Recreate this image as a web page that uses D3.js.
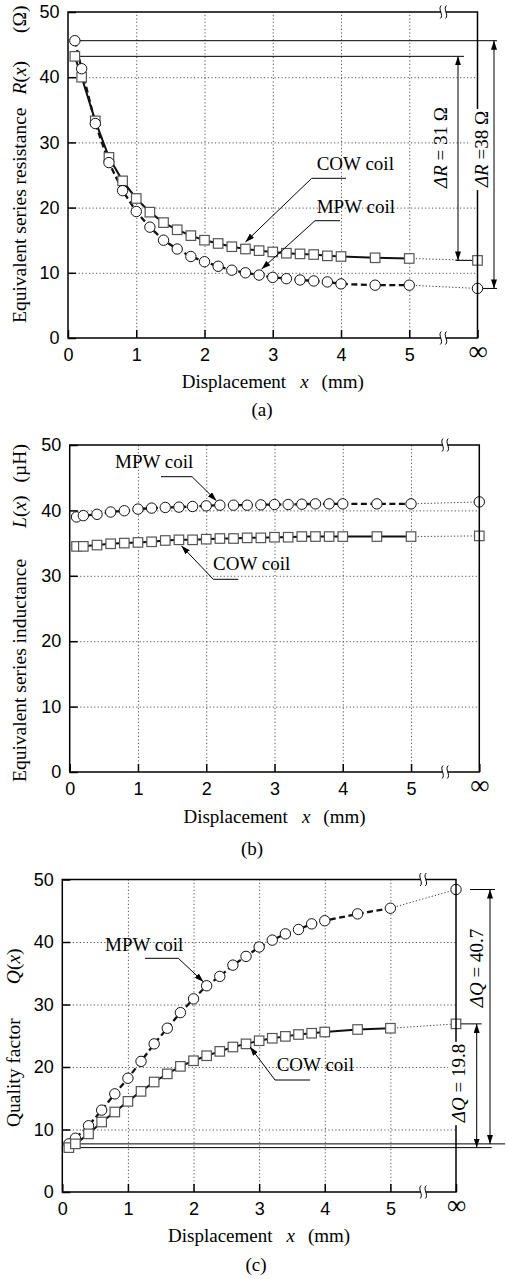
<!DOCTYPE html>
<html>
<head>
<meta charset="utf-8">
<script src="https://cdn.jsdelivr.net/npm/d3@7"></script>
<style>
  html, body { margin: 0; padding: 0; background: #fff; }
  svg { display: block; }
</style>
</head>
<body>
<svg id="chart" width="506" height="1279"></svg>
<script>
// ---- data -------------------------------------------------------------
// displacement steps in mm; the right-most column of every panel is x = ∞
const displacement = [0.1, 0.2, 0.4, 0.6, 0.8, 1.0, 1.2, 1.4, 1.6, 1.8, 2.0, 2.2, 2.4, 2.6, 2.8, 3.0, 3.2, 3.4, 3.6, 3.8, 4.0, 4.5, 5.0];
const xTickValues = [0, 1, 2, 3, 4, 5];
const yTickValues = [0, 10, 20, 30, 40, 50];
const gridX = [1, 2, 3, 4, 5];
const gridY = [10, 20, 30, 40];

// (a) equivalent series resistance R(x), Ω
const resistanceCOW = [43.2, 40.0, 33.3, 27.7, 24.1, 21.4, 19.3, 17.7, 16.6, 15.7, 15.0, 14.5, 14.0, 13.65, 13.4, 13.2, 13.0, 12.9, 12.8, 12.6, 12.5, 12.3, 12.2];
const resistanceCOWInf = 11.9;
const resistanceMPW = [45.6, 41.3, 32.9, 26.9, 22.6, 19.4, 17.0, 15.0, 13.65, 12.5, 11.7, 11.0, 10.4, 10.0, 9.65, 9.3, 9.1, 8.9, 8.75, 8.6, 8.3, 8.1, 8.1];
const resistanceMPWInf = 7.6;

// (b) equivalent series inductance L(x), µH
const inductanceMPW = [39.0, 39.2, 39.4, 39.75, 39.95, 40.2, 40.35, 40.45, 40.5, 40.6, 40.7, 40.8, 40.8, 40.8, 40.85, 40.9, 40.9, 40.95, 41.0, 41.0, 41.0, 41.0, 41.0];
const inductanceMPWInf = 41.3;
const inductanceCOW = [34.5, 34.5, 34.7, 34.9, 35.0, 35.1, 35.2, 35.4, 35.5, 35.5, 35.6, 35.7, 35.7, 35.8, 35.8, 35.9, 35.9, 36.0, 36.0, 36.0, 36.0, 36.0, 36.0];
const inductanceCOWInf = 36.1;

// (c) quality factor Q(x)
const qualityMPW = [7.7, 8.6, 10.6, 13.1, 15.7, 18.2, 20.9, 23.7, 26.2, 28.7, 30.9, 33.0, 34.5, 36.3, 37.7, 39.2, 40.3, 41.3, 42.0, 42.9, 43.4, 44.5, 45.4];
const qualityMPWInf = 48.4;
const qualityCOW = [7.1, 7.7, 9.3, 11.2, 12.8, 14.5, 16.1, 17.6, 18.9, 20.1, 21.0, 21.8, 22.5, 23.2, 23.7, 24.2, 24.6, 24.9, 25.2, 25.4, 25.6, 26.0, 26.2];
const qualityCOWInf = 26.9;

// ---- drawing helpers ---------------------------------------------------
const SERIF = "'Liberation Serif','Times New Roman',Times,serif";
const SANS = "'Liberation Sans',Arial,Helvetica,sans-serif";
const X_INF = 6;      // scale position of the ∞ column
const X_BREAK = 5.5;  // position of the axis break symbol

const svg = d3.select('#chart');
const defs = svg.append('defs');
defs.append('marker')
  .attr('id', 'arrow')
  .attr('viewBox', '0 0 9 6')
  .attr('refX', 9).attr('refY', 3)
  .attr('markerWidth', 9).attr('markerHeight', 6)
  .attr('markerUnits', 'userSpaceOnUse')
  .attr('orient', 'auto-start-reverse')
  .append('path').attr('d', 'M0,0 L9,3 L0,6 Z').attr('fill', '#000');

function drawPanel(p) {
  const g = svg.append('g');
  const x = d3.scaleLinear().domain([0, X_INF]).range([p.left, p.right]);
  const y = d3.scaleLinear().domain([0, 50]).range([p.bottom, p.top]);
  const W = p.right - p.left, H = p.bottom - p.top;

  // dotted grid
  g.append('g').attr('transform', `translate(0,${p.bottom})`)
    .call(d3.axisBottom(x).tickValues(gridX).tickSize(-H).tickFormat(''))
    .call(s => { s.select('.domain').remove(); s.selectAll('line').attr('stroke', '#555').attr('stroke-width', 1).attr('stroke-dasharray', '1.2,2.3'); });
  g.append('g').attr('transform', `translate(${p.left},0)`)
    .call(d3.axisLeft(y).tickValues(gridY).tickSize(-W).tickFormat(''))
    .call(s => { s.select('.domain').remove(); s.selectAll('line').attr('stroke', '#555').attr('stroke-width', 1).attr('stroke-dasharray', '1.2,2.3'); });

  // difference annotations (reference lines + double arrows)
  const ann = g.append('g').attr('stroke', '#000').attr('stroke-width', 1).attr('fill', 'none');
  p.deltas.forEach(d => {
    const y0 = y(d.from), y1 = y(d.to);
    const near = d.refAt === 'low' ? y1 : y0;   // long line starts at x = 0.1
    const far = d.refAt === 'low' ? y0 : y1;    // short tick at the ∞ column
    ann.append('line').attr('x1', x(displacement[0])).attr('x2', p.right + d.longEnd).attr('y1', near).attr('y2', near);
    ann.append('line').attr('x1', p.right + d.shortFrom).attr('x2', p.right + d.shortTo).attr('y1', far).attr('y2', far);
    ann.append('line').attr('x1', p.right + d.arrowX).attr('x2', p.right + d.arrowX)
      .attr('y1', y0).attr('y2', y1)
      .attr('marker-start', 'url(#arrow)').attr('marker-end', 'url(#arrow)');
  });

  const line = d3.line().x(d => x(d[0])).y(d => y(d[1]));
  const cowPts = displacement.map((d, i) => [d, p.cow[i]]);
  const mpwPts = displacement.map((d, i) => [d, p.mpw[i]]);

  // dotted links from 5 mm to ∞
  [[cowPts, p.cowInf], [mpwPts, p.mpwInf]].forEach(([pts, inf]) => {
    g.append('path').attr('d', line([pts[pts.length - 1], [X_INF, inf]]))
      .attr('fill', 'none').attr('stroke', '#444').attr('stroke-width', 1).attr('stroke-dasharray', '1.3,2');
  });

  g.append('path').attr('d', line(cowPts)).attr('fill', 'none').attr('stroke', '#111').attr('stroke-width', 2);
  g.append('path').attr('d', line(mpwPts)).attr('fill', 'none').attr('stroke', '#111').attr('stroke-width', 2.3).attr('stroke-dasharray', '6,3.5');

  const drawSquares = () => {
    g.append('g').selectAll('rect').data(cowPts.concat([[X_INF, p.cowInf]])).join('rect')
      .attr('x', d => x(d[0]) - 4.75).attr('y', d => y(d[1]) - 4.75)
      .attr('width', 9.5).attr('height', 9.5)
      .attr('fill', '#fff').attr('stroke', '#555').attr('stroke-width', 1.2);
  };
  const drawCircles = () => {
    g.append('g').selectAll('circle').data(mpwPts.concat([[X_INF, p.mpwInf]])).join('circle')
      .attr('cx', d => x(d[0])).attr('cy', d => y(d[1])).attr('r', 5.2)
      .attr('fill', '#fff').attr('stroke', '#111').attr('stroke-width', 1);
  };
  if (p.squaresOnTop) { drawCircles(); drawSquares(); } else { drawSquares(); drawCircles(); }

  // frame
  g.append('path')
    .attr('d', `M${p.left},${p.top}V${p.bottom}H${p.right}V${p.top}Z`)
    .attr('fill', 'none').attr('stroke', '#000').attr('stroke-width', 1.5);

  // inward ticks and tick labels
  g.append('g').attr('transform', `translate(${p.left},0)`)
    .call(d3.axisLeft(y).tickValues(yTickValues).tickSizeInner(-8).tickSizeOuter(0).tickPadding(8.5))
    .call(s => {
      s.select('.domain').remove();
      s.selectAll('line').attr('stroke', '#000').attr('stroke-width', 1.5);
      s.selectAll('text').attr('font-family', SANS).attr('font-size', 18).attr('fill', '#000');
    });
  g.append('g').attr('transform', `translate(0,${p.bottom})`)
    .call(d3.axisBottom(x).tickValues(xTickValues.concat([X_INF])).tickSizeInner(-8).tickSizeOuter(0).tickPadding(10)
      .tickFormat(d => d === X_INF ? '∞' : d))
    .call(s => {
      s.select('.domain').remove();
      s.selectAll('line').attr('stroke', '#000').attr('stroke-width', 1.5);
      s.selectAll('text').attr('font-family', SANS).attr('font-size', 18).attr('fill', '#000');
      s.selectAll('.tick').filter(d => d === X_INF).select('text')
        .attr('font-family', SERIF).attr('font-size', 27).attr('dy', '0.45em');
    });

  // axis break symbols on top and bottom edges
  [p.top, p.bottom].forEach(yy => {
    const bx = x(X_BREAK);
    g.append('rect').attr('x', bx - 2.5).attr('y', yy - 3).attr('width', 5).attr('height', 6).attr('fill', '#fff');
    [-2.6, 2.6].forEach(off => {
      const cx = bx + off;
      g.append('path')
        .attr('d', `M${cx + 0.5},${yy - 6.5} C${cx - 3.5},${yy - 3} ${cx + 3.5},${yy + 3} ${cx - 0.5},${yy + 6.5}`)
        .attr('fill', 'none').attr('stroke', '#000').attr('stroke-width', 1);
    });
  });

  // delta labels (rotated), white backing where they cross the frame
  p.deltas.forEach(d => {
    const t = g.append('text')
      .attr('transform', `translate(${p.right + d.textX},${d.textY}) rotate(-90)`)
      .attr('text-anchor', 'middle')
      .attr('font-family', SERIF).attr('font-size', 19).attr('fill', '#000');
    t.append('tspan').attr('font-style', 'italic').text('Δ' + d.sym);
    t.append('tspan').text(d.eq + d.fmt(d.from - d.to) + d.unit);
    if (d.backing) {
      const bb = t.node().getBBox();
      g.insert('rect', () => t.node())
        .attr('transform', `translate(${p.right + d.textX},${d.textY}) rotate(-90)`)
        .attr('x', bb.x - 2).attr('y', bb.y).attr('width', bb.width + 4).attr('height', bb.height)
        .attr('fill', '#fff');
    }
  });

  // series labels with leader arrows
  p.labels.forEach(l => {
    const src = l.series === 'cow' ? cowPts : mpwPts;
    const pt = src[l.index];
    const tx = x(pt[0]) + l.tipOff[0], ty = y(pt[1]) + l.tipOff[1];
    g.append('path')
      .attr('d', `M${l.end[0]},${l.end[1]}H${l.elbow[0]}L${tx},${ty}`)
      .attr('fill', 'none').attr('stroke', '#000').attr('stroke-width', 1)
      .attr('marker-end', 'url(#arrow)');
    g.append('text').attr('x', l.textX).attr('y', l.textY)
      .attr('font-family', SERIF).attr('font-size', 19).attr('fill', '#000')
      .text(l.text);
  });

  // y-axis title
  const yt = g.append('text')
    .attr('transform', `translate(${p.titleX},${p.titleStart}) rotate(-90)`)
    .attr('text-anchor', 'start')
    .attr('font-family', SERIF).attr('font-size', 19.5).attr('fill', '#000');
  yt.append('tspan').text(p.yTitle[0]);
  yt.append('tspan').attr('dx', p.titleGaps[0]).attr('font-style', 'italic').text(p.yTitle[1]);
  yt.append('tspan').text('(');
  yt.append('tspan').attr('font-style', 'italic').text('x');
  yt.append('tspan').text(')');
  yt.append('tspan').attr('dx', p.titleGaps[1]).text(p.yTitle[2]);

  // x-axis title
  const xt = g.append('text')
    .attr('x', (p.left + p.right) / 2).attr('y', p.xTitleY)
    .attr('text-anchor', 'middle')
    .attr('font-family', SERIF).attr('font-size', 19).attr('fill', '#000');
  xt.append('tspan').text('Displacement');
  xt.append('tspan').attr('dx', 14).attr('font-style', 'italic').text('x');
  xt.append('tspan').attr('dx', 13).text('(mm)');

  g.append('text').attr('x', p.captionX).attr('y', p.captionY)
    .attr('text-anchor', 'middle')
    .attr('font-family', SERIF).attr('font-size', 19).attr('fill', '#000')
    .text(p.caption);
}

const fmtInt = d3.format('.0f');
const fmtOne = d3.format('.1f');

drawPanel({
  left: 68, right: 477.5, top: 12, bottom: 338,
  cow: resistanceCOW, cowInf: resistanceCOWInf, mpw: resistanceMPW, mpwInf: resistanceMPWInf,
  squaresOnTop: false,
  yTitle: ['Equivalent series resistance', 'R', '(Ω)'], titleX: 26, titleStart: 323, titleGaps: [13, 28],
  xTitleY: 388, caption: '(a)', captionX: 262, captionY: 416,
  deltas: [
    { sym: 'R', eq: ' = ', unit: ' Ω', fmt: fmtInt, from: resistanceCOW[0], to: resistanceCOWInf, refAt: 'high',
      longEnd: -13.5, shortFrom: -22, shortTo: 0, arrowX: -19.5, textX: -31, textY: 147.5, backing: false },
    { sym: 'R', eq: ' =', unit: ' Ω', fmt: fmtInt, from: resistanceMPW[0], to: resistanceMPWInf, refAt: 'high',
      longEnd: 19.5, shortFrom: 0, shortTo: 19.5, arrowX: 16.5, textX: 10, textY: 149, backing: true }
  ],
  labels: [
    { text: 'COW coil', series: 'cow', index: 13, tipOff: [0, -7], elbow: [311.7, 178.3], end: [346, 178.3], textX: 316.7, textY: 170 },
    { text: 'MPW coil', series: 'mpw', index: 14, tipOff: [2.5, -6], elbow: [315, 220.7], end: [340, 220.7], textX: 316.7, textY: 213 }
  ]
});

drawPanel({
  left: 69.7, right: 479.3, top: 445, bottom: 772,
  cow: inductanceCOW, cowInf: inductanceCOWInf, mpw: inductanceMPW, mpwInf: inductanceMPWInf,
  squaresOnTop: false,
  yTitle: ['Equivalent series inductance', 'L', '(µH)'], titleX: 26, titleStart: 782, titleGaps: [31, 13],
  xTitleY: 823, caption: '(b)', captionX: 252, captionY: 855,
  deltas: [],
  labels: [
    { text: 'MPW coil', series: 'mpw', index: 11, tipOff: [-3.5, -4.5], elbow: [192, 476.7], end: [161, 476.7], textX: 115, textY: 468 },
    { text: 'COW coil', series: 'cow', index: 8, tipOff: [2.5, 6], elbow: [213.3, 579.3], end: [238.3, 579.3], textX: 213, textY: 570 }
  ]
});

drawPanel({
  left: 62.3, right: 456, top: 879.5, bottom: 1192,
  cow: qualityCOW, cowInf: qualityCOWInf, mpw: qualityMPW, mpwInf: qualityMPWInf,
  squaresOnTop: true,
  yTitle: ['Quality factor', 'Q', ''], titleX: 20, titleStart: 1127, titleGaps: [34, 0],
  xTitleY: 1242, caption: '(c)', captionX: 256, captionY: 1271,
  deltas: [
    { sym: 'Q', eq: ' = ', unit: '', fmt: fmtOne, from: qualityMPWInf, to: qualityMPW[0], refAt: 'low',
      longEnd: 49, shortFrom: 14, shortTo: 39, arrowX: 34, textX: 27, textY: 968, backing: false },
    { sym: 'Q', eq: ' = ', unit: '', fmt: fmtOne, from: qualityCOWInf, to: qualityCOW[0], refAt: 'low',
      longEnd: 35.7, shortFrom: 4, shortTo: 25.7, arrowX: 20.7, textX: 9, textY: 1083, backing: true }
  ],
  labels: [
    { text: 'MPW coil', series: 'mpw', index: 11, tipOff: [-3.3, -4], elbow: [178.3, 958.3], end: [145, 958.3], textX: 105, textY: 951 },
    { text: 'COW coil', series: 'cow', index: 14, tipOff: [4, 3], elbow: [275, 1080], end: [310, 1080], textX: 276.7, textY: 1071 }
  ]
});
</script>
</body>
</html>
